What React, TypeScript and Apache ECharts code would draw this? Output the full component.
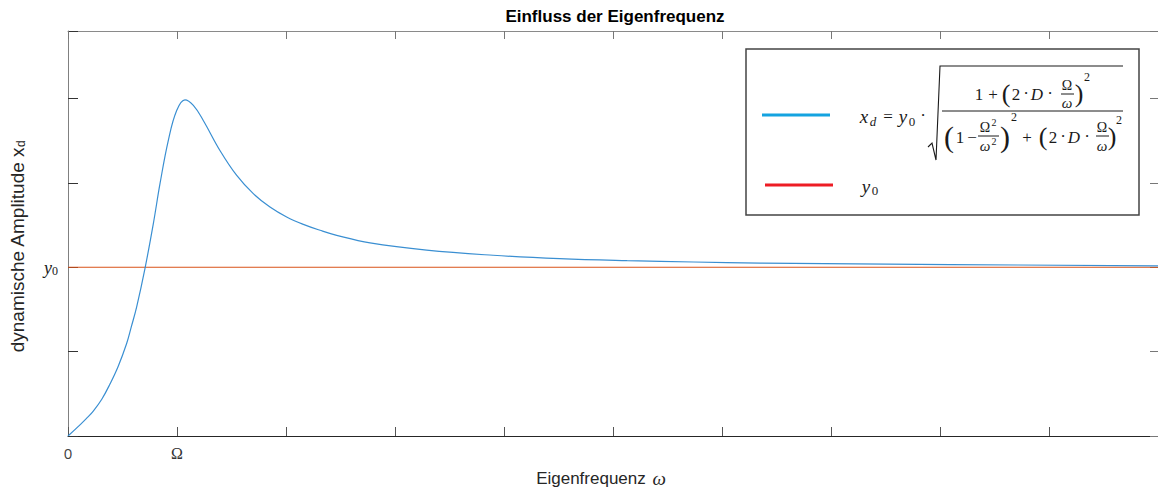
import React, { useEffect, useRef } from "react";
import * as echarts from "echarts";

// Frequency (in units of Ω) and dynamic amplitude (in units of y0)
const omega = [0, 0.11, 0.17, 0.232, 0.31, 0.385, 0.46, 0.538, 0.58, 0.63, 0.706, 0.783, 0.844, 0.92, 0.997, 1.073, 1.15, 1.241, 1.394, 1.548, 1.7, 1.853, 2.006, 2.159, 2.312, 2.465, 2.771, 3.29, 3.9, 4.51, 5.13, 5.74, 6.35, 8.1, 10];
const amplitude = [0, 0.066, 0.104, 0.148, 0.218, 0.308, 0.412, 0.548, 0.645, 0.765, 0.992, 1.259, 1.495, 1.751, 1.929, 1.992, 1.959, 1.87, 1.692, 1.544, 1.436, 1.357, 1.298, 1.254, 1.219, 1.189, 1.144, 1.101, 1.071, 1.051, 1.039, 1.031, 1.025, 1.016, 1.008];
const y0Omega = [0, 10];
const y0Value = [1, 1];
const xTickLabels: Record<number, string> = { 0: "{n|0}", 1: "{o|Ω}" };
const yTickLabels: Record<number, string> = { 1: "{a|y}{b|0}" };

const SERIF = "'Liberation Serif', 'DejaVu Serif', serif";
const SANS = "'Liberation Sans', Arial, sans-serif";

function t(x: number, y: number, text: string, size: number, italic = false, family = SERIF) {
  return {
    type: "text",
    x,
    y,
    z: 12,
    silent: true,
    style: {
      text,
      fontSize: size,
      fontFamily: family,
      fontStyle: italic ? "italic" : "normal",
      fill: "#1a1a1a",
      align: "center",
      verticalAlign: "middle",
      textAlign: "center",
      textVerticalAlign: "middle",
    },
  };
}
function ln(x1: number, y1: number, x2: number, y2: number, color = "#1a1a1a", w = 1) {
  return { type: "line", z: 12, silent: true, shape: { x1, y1, x2, y2 }, style: { stroke: color, lineWidth: w } };
}

export default function App() {
  const ref = useRef<HTMLDivElement>(null);
  useEffect(() => {
    const chart = echarts.init(ref.current!, undefined, { renderer: "svg", width: 1158, height: 488 });
    const curve = omega.map((w, i) => [w, amplitude[i]]);
    const yLine = y0Omega.map((w, i) => [w, y0Value[i]]);

    const formula: any[] = [
      // left part x_d = y0 ·
      t(864, 116, "x", 19, true), t(873, 121, "d", 13, true),
      t(888, 116, "=", 17),
      t(903, 116, "y", 19, true), t(912, 121, "0", 13),
      t(923, 115, "·", 17),
      {
        type: "polyline", z: 12, silent: true,
        shape: { points: [[928, 147], [932, 143], [936, 160], [940, 66], [1123, 66]] },
        style: { stroke: "#1a1a1a", lineWidth: 1.1, fill: null },
      },
      // numerator
      t(979, 94, "1", 17), t(993, 94, "+", 17), t(1006, 93, "(", 26), t(1016, 94, "2", 17),
      t(1026, 93, "·", 17), t(1037, 94, "D", 17, true), t(1050, 93, "·", 17),
      t(1067, 85, "Ω", 14), ln(1061, 94, 1074, 94), t(1067, 103, "ω", 15, true),
      t(1079, 93, ")", 26), t(1087, 77, "2", 12),
      ln(942, 111, 1123, 111),
      // denominator
      t(949, 136, "(", 30), t(960, 137, "1", 17), t(972, 137, "−", 17),
      t(985, 127, "Ω", 14), t(994, 122, "2", 10), ln(978, 136, 999, 136), t(985, 146, "ω", 15, true), t(994, 141, "2", 10),
      t(1005, 136, ")", 30), t(1014, 117, "2", 12),
      t(1027, 137, "+", 17), t(1043, 136, "(", 26), t(1053, 137, "2", 17), t(1063, 136, "·", 17),
      t(1074, 137, "D", 17, true), t(1087, 136, "·", 17),
      t(1102, 127, "Ω", 14), ln(1096, 136, 1109, 136), t(1102, 146, "ω", 15, true),
      t(1112, 136, ")", 26), t(1119, 120, "2", 12),
      // second legend entry
      t(866, 186, "y", 19, true), t(875, 190, "0", 13),
    ];

    chart.setOption({
      animation: false,
      backgroundColor: "#ffffff",
      title: {
        text: "Einfluss der Eigenfrequenz",
        left: 610,
        top: 3,
        textAlign: "center",
        textStyle: { fontFamily: SANS, fontSize: 17, fontWeight: "bold", color: "#000" },
      },
      grid: { left: 68, right: 0, top: 31, bottom: 52, outerBoundsMode: "none", containLabel: false },
      xAxis: [
        {
          type: "value", min: 0, max: 10, interval: 1, position: "bottom",
          axisLine: { show: true, onZero: false, lineStyle: { color: "#262626", width: 1 } },
          axisTick: { show: true, inside: true, length: 9, lineStyle: { color: "#555" } },
          splitLine: { show: false },
          axisLabel: {
            margin: 9,
            formatter: (v: number) => xTickLabels[v] ?? "",
            rich: {
              n: { fontFamily: "'Open Sans', sans-serif", fontSize: 15, color: "#404040" },
              o: { fontFamily: SERIF, fontSize: 16, color: "#333" },
            },
          },
          name: "{a|Eigenfrequenz}  {b|ω}",
          nameLocation: "middle",
          nameGap: 33,
          nameTextStyle: {
            padding: [0, 24, 0, 0],
            rich: {
              a: { fontFamily: SANS, fontSize: 17, color: "#262626" },
              b: { fontFamily: SERIF, fontSize: 19, fontStyle: "italic", color: "#262626" },
            },
          },
        },
        {
          type: "value", min: 0, max: 10, interval: 1, position: "top",
          axisLine: { show: true, onZero: false, lineStyle: { color: "#8a8a8a", width: 1 } },
          axisTick: { show: true, inside: true, length: 8, lineStyle: { color: "#777" } },
          axisLabel: { show: false },
          splitLine: { show: false },
        },
      ],
      yAxis: [
        {
          type: "value", min: 0, max: 2.4, interval: 0.5, position: "left",
          axisLine: { show: true, onZero: false, lineStyle: { color: "#808080", width: 1 } },
          axisTick: { show: true, inside: true, length: 10, lineStyle: { color: "#333" } },
          splitLine: { show: false },
          axisLabel: {
            margin: 10,
            formatter: (v: number) => yTickLabels[v] ?? "",
            rich: {
              a: { fontFamily: SERIF, fontSize: 18, fontStyle: "italic", color: "#1a1a1a", verticalAlign: "bottom" },
              b: { fontFamily: SERIF, fontSize: 12, color: "#1a1a1a", verticalAlign: "bottom", padding: [8, 0, 0, 0] },
            },
          },
          name: "{a|dynamische Amplitude x}{b|d}",
          nameLocation: "middle",
          nameGap: 41,
          nameTextStyle: {
            padding: [0, 26, 0, 0],
            rich: {
              a: { fontFamily: SANS, fontSize: 19, color: "#262626", verticalAlign: "bottom" },
              b: { fontFamily: SANS, fontSize: 12, color: "#262626", verticalAlign: "bottom", padding: [8, 0, 0, 0] },
            },
          },
        },
        {
          type: "value", min: 0, max: 2.4, interval: 0.5, position: "right",
          axisLine: { show: true, onZero: false, lineStyle: { color: "#808080", width: 1 } },
          axisTick: { show: true, inside: true, length: 8, lineStyle: { color: "#777" } },
          axisLabel: { show: false },
          splitLine: { show: false },
        },
      ],
      series: [
        {
          type: "line", name: "x_d", data: curve, smooth: 0.4, showSymbol: false,
          lineStyle: { color: "#3a8fd2", width: 1.2 }, z: 3,
        },
        {
          type: "line", name: "y0", data: yLine, showSymbol: false,
          lineStyle: { color: "#d95319", width: 1 }, z: 2,
        },
      ],
      graphic: [
        {
          type: "rect", silent: true, z: 10,
          shape: { x: 746, y: 49, width: 393, height: 166 },
          style: { fill: "#ffffff", stroke: "#444444", lineWidth: 1.5 },
        },
        ln(762, 115, 830, 115, "#14a3e0", 3),
        ln(765, 185, 833, 185, "#ed1c24", 3),
        ...formula,
      ],
    });
    return () => chart.dispose();
  }, []);
  return <div ref={ref} style={{ position: "absolute", left: 0, top: 0, width: 1158, height: 488 }} />;
}
